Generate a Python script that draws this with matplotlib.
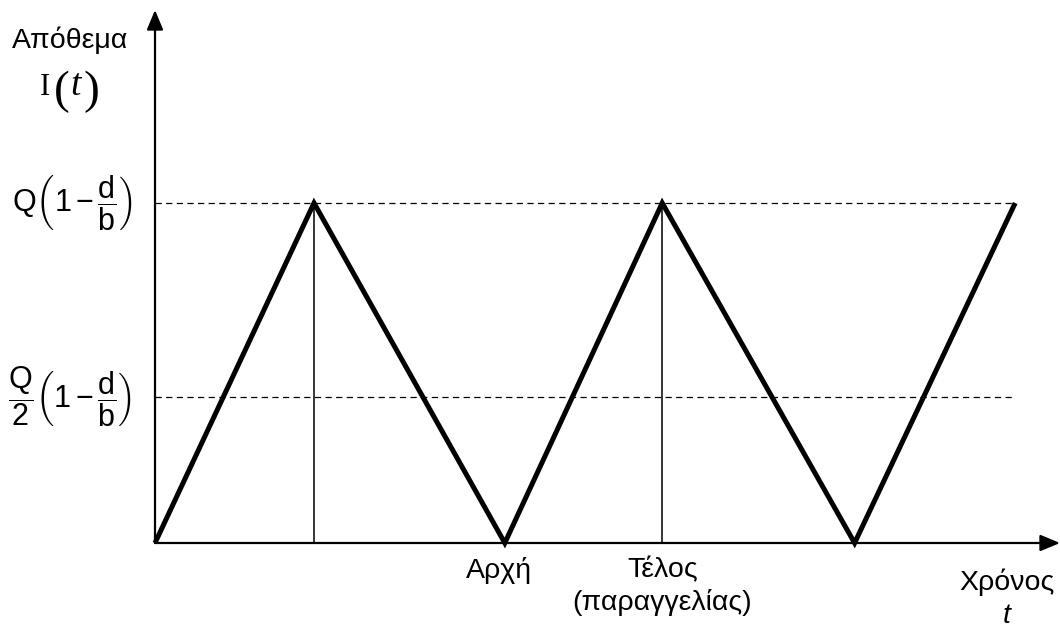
import matplotlib
matplotlib.use("Agg")
import matplotlib.pyplot as plt

plt.rcParams['font.family'] = ['Liberation Sans', 'DejaVu Sans']
plt.rcParams['mathtext.fontset'] = 'custom'
plt.rcParams['mathtext.rm'] = 'Liberation Sans'
plt.rcParams['mathtext.it'] = 'Liberation Sans:italic'
plt.rcParams['mathtext.default'] = 'regular'

# inventory cycle: build-up then depletion
t_points = [0.0, 1.0, 2.2, 3.19, 4.4, 5.41]
inventory = [0.0, 1.0, 0.0, 1.0, 0.0, 1.0]
peak_times = [1.0, 3.19]          # thin verticals drawn at these peaks
levels = [1.0, 0.43]              # Q(1-d/b) and Q/2(1-d/b)
level_labels = [r'$Q\left(1\,{-}\,\dfrac{d}{b}\right)$',
                r'$\dfrac{Q}{2}\left(1\,{-}\,\dfrac{d}{b}\right)$']
x_marks = [2.2, 3.19]
x_mark_labels = ['Αρχή', 'Τέλος\n(παραγγελίας)']
x_mark_shift = [-6, 0]

fs = 20.5
xmax = 905 / 159
ymax = 533 / 340

fig = plt.figure(figsize=(10.6, 6.3), dpi=100)
ax = fig.add_axes([155 / 1060, 87 / 630, 905 / 1060, 533 / 630])
ax.set_xlim(0, xmax)
ax.set_ylim(0, ymax)
ax.axis('off')

# axes with arrow heads
arrow = dict(arrowstyle='-|>,head_length=0.6,head_width=0.25', lw=1.6,
             color='k', mutation_scale=20, shrinkA=0, shrinkB=0)
ax.annotate('', xy=(xmax, 0), xytext=(0, 0), arrowprops=arrow,
            annotation_clip=False)
ax.annotate('', xy=(0, ymax), xytext=(0, 0), arrowprops=arrow,
            annotation_clip=False)

# dashed reference levels
for lv in levels:
    ax.plot([0, t_points[-1]], [lv, lv], color='k', lw=0.9,
            dashes=(5, 3.5), clip_on=False)

for pt in peak_times:
    ax.plot([pt, pt], [0, 1.0], color='k', lw=1.1)

ax.plot(t_points, inventory, color='k', lw=3.6, solid_joinstyle='miter',
        solid_capstyle='butt', clip_on=False)

# labels on the vertical axis
for lv, lab in zip(levels, level_labels):
    ax.annotate(lab, xy=(0, lv), xytext=(-23, 0), textcoords='offset pixels',
                ha='right', va='center', fontsize=22, annotation_clip=False)

ax.annotate('Απόθεμα', xy=(0, ymax), xytext=(-85, -30),
            textcoords='offset pixels', ha='center', va='center',
            fontsize=fs, annotation_clip=False)

# I(t) put together from pieces so the brackets can be taller
serif = ['Liberation Serif', 'DejaVu Serif']
pieces = [('I', -110, -85, 22, 'normal', 'baseline'),
          ('(', -93, -82, 34, 'normal', 'center'),
          ('t', -79, -85, 27, 'italic', 'baseline'),
          (')', -64, -82, 34, 'normal', 'center')]
for s, dx, dy, size, style, va in pieces:
    ax.annotate(s, xy=(0, ymax), xytext=(dx, dy), textcoords='offset pixels',
                ha='center', va=va, fontsize=size, family=serif,
                style=style, annotation_clip=False)

# labels under the time axis
for xm, lab, sh in zip(x_marks, x_mark_labels, x_mark_shift):
    ax.annotate(lab, xy=(xm, 0), xytext=(sh, -14), textcoords='offset pixels',
                ha='center', va='top', fontsize=fs, linespacing=1.28,
                annotation_clip=False)

ax.annotate('Χρόνος', xy=(xmax, 0), xytext=(-53, -47),
            textcoords='offset pixels', ha='center', va='baseline',
            fontsize=fs, annotation_clip=False)
ax.annotate('$\\mathit{t}$', xy=(xmax, 0), xytext=(-53, -80),
            textcoords='offset pixels', ha='center', va='baseline',
            fontsize=fs, annotation_clip=False)

fig.savefig('out.png', dpi=100)
